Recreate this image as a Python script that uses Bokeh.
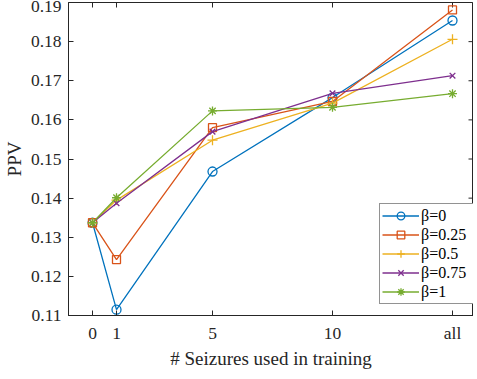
import math
from bokeh.plotting import figure
from bokeh.models import (LinearAxis, FixedTicker, Legend, LegendItem, Range1d,
                          NumeralTickFormatter)
from bokeh.embed import file_html
from bokeh.resources import INLINE

# ---- data ----
x_pos = [0, 1, 5, 10, 15]
x_labels = ["0", "1", "5", "10", "all"]
y_ticks = [0.11, 0.12, 0.13, 0.14, 0.15, 0.16, 0.17, 0.18, 0.19]

series_names = ["β=0", "β=0.25", "β=0.5", "β=0.75", "β=1"]
ppv_b0 = [0.1337, 0.1115, 0.1468, 0.1657, 0.1854]
ppv_b025 = [0.1337, 0.1243, 0.1580, 0.1647, 0.1881]
ppv_b05 = [0.1337, 0.1395, 0.1548, 0.1643, 0.1806]
ppv_b075 = [0.1337, 0.1387, 0.1570, 0.1668, 0.1713]
ppv_b1 = [0.1337, 0.1401, 0.1623, 0.1632, 0.1667]
series_values = [ppv_b0, ppv_b025, ppv_b05, ppv_b075, ppv_b1]

colors = ["#0072BD", "#D95319", "#EDB120", "#7E2F8E", "#77AC30"]
markers = ["circle", "square", "cross", "x", "asterisk"]
sizes = [9, 8, 10, 8, 9]

FONT = "Liberation Serif"
AX = "#262626"
TICK_FS = "17.5px"
LABEL_FS = "19px"
LEG_FS = "16px"

X0, X1 = -1, 15.875
Y0, Y1 = 0.11, 0.19

p = figure(frame_width=405, frame_height=313, output_backend="svg",
           toolbar_location=None,
           x_range=Range1d(X0, X1), y_range=Range1d(Y0, Y1),
           min_border_left=63, min_border_right=0, min_border_top=2,
           min_border_bottom=52, x_axis_location=None, y_axis_location=None)
p.xgrid.visible = False
p.ygrid.visible = False
p.outline_line_color = AX
p.outline_line_width = 1
p.background_fill_color = "white"
p.border_fill_color = "white"


def style_axis(ax):
    ax.axis_line_color = AX
    ax.major_tick_line_color = AX
    ax.minor_tick_line_color = None
    ax.major_tick_in = 5
    ax.major_tick_out = 0
    ax.major_label_text_font = FONT
    ax.major_label_text_color = AX
    ax.major_label_text_font_size = TICK_FS
    ax.major_label_standoff = 7
    ax.axis_label_text_font = FONT
    ax.axis_label_text_font_size = LABEL_FS
    ax.axis_label_text_font_style = "normal"
    ax.axis_label_text_color = AX


xb = LinearAxis(ticker=FixedTicker(ticks=x_pos),
                major_label_overrides={x: l for x, l in zip(x_pos, x_labels)},
                axis_label="# Seizures used in training")
style_axis(xb)
xb.axis_label_standoff = 2
p.add_layout(xb, "below")

yl = LinearAxis(ticker=FixedTicker(ticks=y_ticks),
                formatter=NumeralTickFormatter(format="0.00"), axis_label="PPV")
style_axis(yl)
yl.axis_label_standoff = 3
p.add_layout(yl, "left")

# mirrored inward ticks on top and right (box on)
p.ray(x=x_pos, y=[Y1] * len(x_pos), length=5, angle=-math.pi / 2,
      length_units="screen", line_color=AX, line_width=1)
p.ray(x=[X1] * len(y_ticks), y=y_ticks, length=5, angle=math.pi,
      length_units="screen", line_color=AX, line_width=1)

items = []
for name, vals, c, m, s in zip(series_names, series_values, colors, markers, sizes):
    ln = p.line(x_pos, vals, line_color=c, line_width=1.3)
    sc = p.scatter(x_pos, vals, marker=m, size=s, line_color=c, fill_color=None,
                   line_width=1.3)
    items.append(LegendItem(label=name, renderers=[ln, sc]))

legend = Legend(items=items, location=(311, 11), orientation="vertical")
legend.label_text_font = FONT
legend.label_text_font_size = LEG_FS
legend.label_text_color = "black"
legend.border_line_color = AX
legend.border_line_width = 1
legend.background_fill_color = "white"
legend.background_fill_alpha = 1
legend.glyph_width = 37
legend.glyph_height = 19
legend.label_height = 19
legend.label_width = 52
legend.label_standoff = 2
legend.spacing = 0
legend.padding = 2
legend.margin = 0
p.add_layout(legend, "center")

open("out.html", "w").write(file_html(p, INLINE))
